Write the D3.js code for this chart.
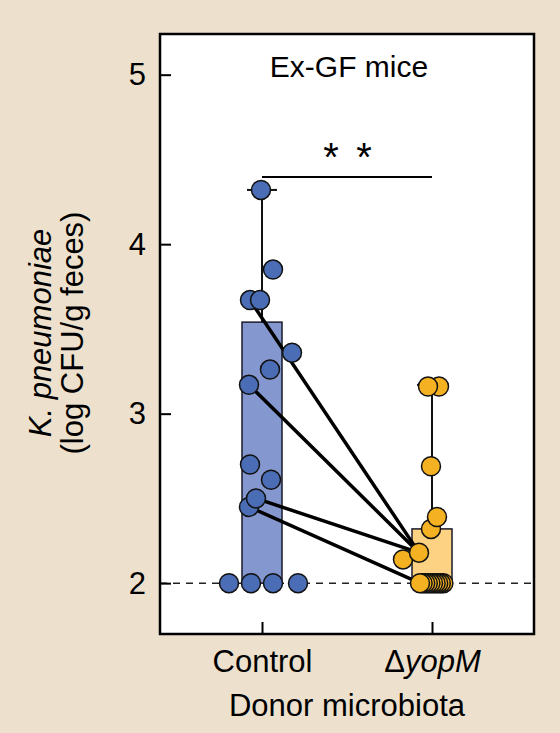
<!DOCTYPE html>
<html>
<head>
<meta charset="utf-8">
<script src="https://cdn.jsdelivr.net/npm/d3@7"></script>
<style>
  body { margin: 0; background: #ede1cd; }
  svg { display: block; font-family: "Liberation Sans", Arial, sans-serif; }
</style>
</head>
<body>
<svg id="chart"></svg>
<script>
// groups on the x axis
var groups = ["Control", "ΔyopM"];

// log CFU/g feces
var controlValues = [4.32, 3.85, 3.67, 3.67, 3.36, 3.26, 3.17, 2.70, 2.61, 2.50, 2.45, 2.00, 2.00, 2.00, 2.00];
var controlJitter = [-0.05, 0.55, -0.1, -0.6, 1.5, 0.4, -0.65, -0.6, 0.45, -0.3, -0.65, -1.65, -0.55, 0.55, 1.8];

var yopMValues = [3.16, 3.16, 2.69, 2.39, 2.32, 2.18, 2.14, 2.00, 2.00, 2.00, 2.00, 2.00, 2.00, 2.00, 2.00, 2.00, 2.00];
var yopMJitter = [-0.2, 0.35, -0.05, 0.25, -0.05, -0.65, -1.45, -0.6, -0.47, -0.34, -0.21, -0.08, 0.05, 0.18, 0.31, 0.44, 0.57];

// box tops (upper quartile) and whisker tops (max)
var boxTop = [3.54, 2.32];
var whiskerTop = [4.32, 3.17];
var detectionLimit = 2;

// matched lines: [control index, yopM index]
var pairs = [[3, 5], [6, 5], [9, 5], [10, 7]];

var yTicks = [2, 3, 4, 5];

var colors = {
  Control: { dot: "#4a6db5", box: "#8597cf" },
  "ΔyopM": { dot: "#f4b122", box: "#fdd282" }
};

var W = 560, H = 733;
var margin = { top: 34, right: 26, bottom: 99, left: 160 };
var width = W - margin.left - margin.right,
  height = H - margin.top - margin.bottom;

var svg = d3.select("#chart").attr("width", W).attr("height", H);

svg.append("rect").attr("width", W).attr("height", H).attr("fill", "#ede1cd");

var g = svg.append("g").attr("transform", `translate(${margin.left},${margin.top})`);

g.append("rect")
  .attr("width", width).attr("height", height)
  .attr("fill", "#ffffff");

var x = d3.scalePoint().domain(groups).range([0, width]).padding(0.6);
var y = d3.scaleLinear().domain([1.70, 5.24]).range([height, 0]);
var jitter = d3.scaleLinear().domain([-1, 1]).range([-20, 20]);
var boxHalf = jitter(1);

// dashed line at detection limit
g.append("line")
  .attr("x1", 0).attr("x2", width)
  .attr("y1", y(detectionLimit)).attr("y2", y(detectionLimit))
  .attr("stroke", "#222").attr("stroke-width", 1.5)
  .attr("stroke-dasharray", "7,6");

// boxes
g.selectAll(".box").data(groups).join("rect")
  .attr("class", "box")
  .attr("x", d => x(d) - boxHalf)
  .attr("width", boxHalf * 2)
  .attr("y", (d, i) => y(boxTop[i]))
  .attr("height", (d, i) => y(detectionLimit) - y(boxTop[i]))
  .attr("fill", d => colors[d].box)
  .attr("stroke", "#1a1a2a").attr("stroke-width", 1.5);

// whiskers
g.selectAll(".whisker").data(groups).join("line")
  .attr("class", "whisker")
  .attr("x1", d => x(d)).attr("x2", d => x(d))
  .attr("y1", (d, i) => y(boxTop[i])).attr("y2", (d, i) => y(whiskerTop[i]))
  .attr("stroke", "#111").attr("stroke-width", 2);

g.selectAll(".cap").data(groups).join("line")
  .attr("class", "cap")
  .attr("x1", d => x(d) - 15).attr("x2", d => x(d) + 15)
  .attr("y1", (d, i) => y(whiskerTop[i])).attr("y2", (d, i) => y(whiskerTop[i]))
  .attr("stroke", "#111").attr("stroke-width", 2);

// paired lines
g.selectAll(".pair").data(pairs).join("line")
  .attr("class", "pair")
  .attr("x1", d => x(groups[0]) + jitter(controlJitter[d[0]]))
  .attr("y1", d => y(controlValues[d[0]]))
  .attr("x2", d => x(groups[1]) + jitter(yopMJitter[d[1]]))
  .attr("y2", d => y(yopMValues[d[1]]))
  .attr("stroke", "#000").attr("stroke-width", 3.5)
  .attr("stroke-linecap", "round");

// dots, drawn in reverse so the first listed sit on top
function dots(name, values, jit) {
  var pts = values.map((v, i) => ({ v: v, j: jit[i] })).reverse();
  g.append("g").selectAll("circle").data(pts).join("circle")
    .attr("cx", d => x(name) + jitter(d.j))
    .attr("cy", d => y(d.v))
    .attr("r", 9.5)
    .attr("fill", colors[name].dot)
    .attr("stroke", "#111").attr("stroke-width", 1.5);
}
dots("Control", controlValues, controlJitter);
dots("ΔyopM", yopMValues, yopMJitter);

// axes
var yAxis = g.append("g")
  .call(d3.axisLeft(y).tickValues(yTicks).tickFormat(d3.format("d"))
    .tickSizeInner(-11).tickSizeOuter(0).tickPadding(14));
var xAxis = g.append("g")
  .attr("transform", `translate(0,${height})`)
  .call(d3.axisBottom(x).tickSizeInner(-12).tickSizeOuter(0).tickPadding(16));

[yAxis, xAxis].forEach(function(a) {
  a.select(".domain").remove();
  a.selectAll("line").attr("stroke", "#000").attr("stroke-width", 2);
  a.selectAll("text").attr("font-size", 31).attr("fill", "#000")
    .style("font-family", "'Liberation Sans', Arial, sans-serif");
});

xAxis.selectAll("text").filter(d => d === "ΔyopM").text(null)
  .call(t => {
    t.append("tspan").text("Δ");
    t.append("tspan").attr("font-style", "italic").text("yopM");
  });

// frame
g.append("rect")
  .attr("width", width).attr("height", height)
  .attr("fill", "none").attr("stroke", "#000").attr("stroke-width", 2.5);

// title
g.append("text")
  .attr("x", 189).attr("y", 43)
  .attr("text-anchor", "middle")
  .attr("font-size", 30)
  .text("Ex-GF mice");

// significance
g.append("line")
  .attr("x1", x(groups[0])).attr("x2", x(groups[1]))
  .attr("y1", 143).attr("y2", 143)
  .attr("stroke", "#000").attr("stroke-width", 1.8);
g.selectAll(".star").data([-16, 17]).join("text")
  .attr("class", "star")
  .attr("x", d => (x(groups[0]) + x(groups[1])) / 2 + d)
  .attr("y", 137)
  .attr("text-anchor", "middle")
  .attr("font-size", 40)
  .text("*");

// axis titles
g.append("text")
  .attr("x", (x(groups[0]) + x(groups[1])) / 2 + 0)
  .attr("y", height + 82)
  .attr("text-anchor", "middle")
  .attr("font-size", 31)
  .text("Donor microbiota");

var yl = svg.append("text")
  .attr("transform", `translate(51,333) rotate(-90)`)
  .attr("text-anchor", "middle")
  .attr("font-size", 31);
yl.append("tspan").attr("font-style", "italic").text("K. pneumoniae");
svg.append("text")
  .attr("transform", `translate(83,333) rotate(-90)`)
  .attr("text-anchor", "middle")
  .attr("font-size", 31)
  .text("(log CFU/g feces)");
</script>
</body>
</html>
